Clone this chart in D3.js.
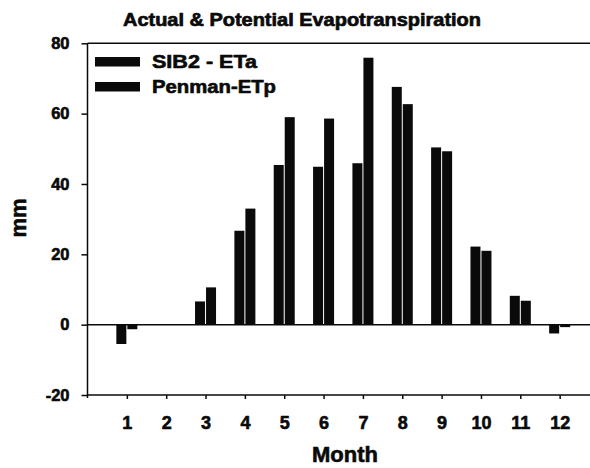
<!DOCTYPE html>
<html>
<head>
<meta charset="utf-8">
<script src="https://cdn.jsdelivr.net/npm/d3@7"></script>
<style>
  html, body { margin: 0; padding: 0; background: #fff; }
  svg { display: block; font-family: "Liberation Sans", Arial, Helvetica, sans-serif; font-weight: bold; }
</style>
</head>
<body>
<svg id="chart" width="590" height="468"></svg>
<script>
const months = [1, 2, 3, 4, 5, 6, 7, 8, 9, 10, 11, 12];
const etaValues = [-5.5, 0, 6.6, 26.7, 45.4, 44.9, 45.9, 67.6, 50.4, 22.2, 8.2, -2.5];
const etpValues = [-1.3, 0, 10.6, 33.0, 59.0, 58.6, 75.9, 62.7, 49.3, 21.0, 6.8, -0.7];
const yTicks = [-20, 0, 20, 40, 60, 80];
const seriesNames = ["SIB2 - ETa", "Penman-ETp"];
const titleText = "Actual & Potential Evapotranspiration";
const xTitle = "Month";
const yTitle = "mm";

const svg = d3.select("#chart");
const x = d3.scaleLinear().domain([0, 13]).range([87.5, 599]);
const y = d3.scaleLinear().domain([-20, 80]).range([395, 43.3]);
const barW = 10;
const ink = "#0a0a0a";
const fam = "\"Liberation Sans\", Arial, sans-serif";

function heavy(sel, w) {
  sel.attr("stroke", ink).attr("stroke-width", w).attr("paint-order", "stroke").attr("stroke-linejoin", "round");
}

// title
svg.append("text")
  .attr("x", 302).attr("y", 26)
  .attr("text-anchor", "middle")
  .attr("font-size", 18.5)
  .attr("textLength", 358).attr("lengthAdjust", "spacingAndGlyphs")
  .attr("fill", ink)
  .text(titleText)
  .call(heavy, 0.7);

// plot frame top line
svg.append("line")
  .attr("x1", x(0)).attr("x2", 590)
  .attr("y1", y(80)).attr("y2", y(80))
  .attr("stroke", ink).attr("stroke-width", 1.5);

// zero line
svg.append("line")
  .attr("x1", x(0)).attr("x2", 590)
  .attr("y1", y(0)).attr("y2", y(0))
  .attr("stroke", ink).attr("stroke-width", 1.5);

// bars
const g = svg.append("g");
g.selectAll("rect.eta").data(months).enter().append("rect")
  .attr("class", "eta")
  .attr("x", (d) => x(d) - barW - 0.5)
  .attr("width", barW)
  .attr("y", (d, i) => y(Math.max(0, etaValues[i])))
  .attr("height", (d, i) => Math.abs(y(etaValues[i]) - y(0)))
  .attr("fill", ink);
g.selectAll("rect.etp").data(months).enter().append("rect")
  .attr("class", "etp")
  .attr("x", (d) => x(d) + 0.5)
  .attr("width", barW)
  .attr("y", (d, i) => y(Math.max(0, etpValues[i])))
  .attr("height", (d, i) => Math.abs(y(etpValues[i]) - y(0)))
  .attr("fill", ink);

// y axis
const yAxis = svg.append("g")
  .attr("transform", `translate(${x(0)},0)`)
  .call(d3.axisLeft(y).tickValues(yTicks).tickSize(6).tickPadding(12).tickFormat((d) => String(d)));
yAxis.select(".domain").attr("stroke", ink).attr("stroke-width", 1.5).attr("d", `M0,${y(80)}V${y(-20) + 3}`);
yAxis.selectAll(".tick line").attr("stroke", ink).attr("stroke-width", 1.5);
yAxis.selectAll(".tick text")
  .attr("font-size", 16.5).attr("font-weight", "bold")
  .attr("font-family", fam)
  .attr("fill", ink)
  .call(heavy, 0.6);

// x axis
const xAxis = svg.append("g")
  .attr("transform", `translate(0,${y(-20)})`)
  .call(d3.axisBottom(x).tickValues(months).tickSize(4).tickPadding(17).tickFormat((d) => String(d)));
xAxis.select(".domain").attr("stroke", ink).attr("stroke-width", 1.5).attr("d", `M${x(0)},0H590`);
xAxis.selectAll(".tick line").attr("stroke", ink).attr("stroke-width", 1.5);
xAxis.selectAll(".tick text")
  .attr("font-size", 18).attr("font-weight", "bold")
  .attr("font-family", fam)
  .attr("fill", ink)
  .call(heavy, 0.6);

// axis titles
svg.append("text")
  .attr("x", 345).attr("y", 462)
  .attr("text-anchor", "middle")
  .attr("font-size", 22)
  .attr("fill", ink)
  .text(xTitle)
  .call(heavy, 0.6);
svg.append("text")
  .attr("transform", "translate(26,218) rotate(-90)")
  .attr("text-anchor", "middle")
  .attr("font-size", 22)
  .attr("fill", ink)
  .text(yTitle)
  .call(heavy, 0.6);

// legend
const legend = svg.append("g");
seriesNames.forEach((name, i) => {
  const ly = 57 + i * 25;
  legend.append("rect")
    .attr("x", 95).attr("y", ly)
    .attr("width", 45).attr("height", 9.5)
    .attr("fill", ink);
  legend.append("text")
    .attr("x", 152).attr("y", ly + 11)
    .attr("font-size", 17.5)
    .attr("textLength", i === 0 ? 105 : 124).attr("lengthAdjust", "spacingAndGlyphs")
    .attr("fill", ink)
    .text(name)
    .call(heavy, 0.6);
});
</script>
</body>
</html>
